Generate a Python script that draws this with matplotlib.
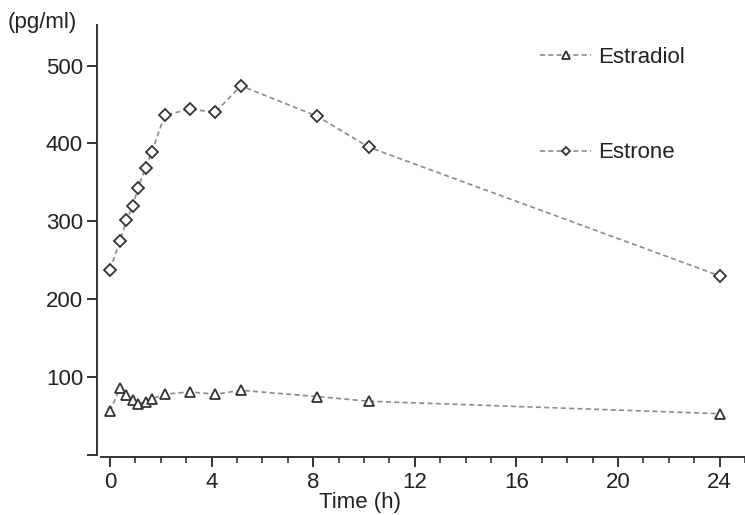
import matplotlib
matplotlib.use("Agg")
from matplotlib import pyplot as plt
from matplotlib.ticker import MultipleLocator

plt.rcParams['font.family'] = ['Liberation Sans', 'DejaVu Sans']

# time points (h) and concentrations (pg/ml)
time_h = [0, 0.4, 0.65, 0.9, 1.1, 1.4, 1.65, 2.15, 3.15, 4.15, 5.15, 8.15, 10.2, 24]
estradiol = [56, 86, 77, 70, 66, 68, 72, 78, 81, 78, 83, 75, 69, 53]
estrone = [238, 275, 302, 319, 343, 368, 389, 436, 444, 440, 474, 435, 395, 230]

x_ticks = [0, 4, 8, 12, 16, 20, 24]
y_ticks = [0, 100, 200, 300, 400, 500]
y_tick_labels = ['', '100', '200', '300', '400', '500']

fig = plt.figure(figsize=(7.45, 5.15), dpi=100)
ax = fig.add_axes([97 / 745, 1 - 457 / 515, 648 / 745, 432 / 515])

line_style = dict(color='#8a8a8a', lw=1.2, dashes=(3, 2),
                  mfc='white', mec='#333333', mew=1.3)
ax.plot(time_h, estradiol, marker='^', ms=7.5, label='Estradiol', **line_style)
ax.plot(time_h, estrone, marker='D', ms=6, label='Estrone', **line_style)

ax.set_xlim(-0.51, 25.0)
ax.set_ylim(-2.6, 552)

for side in ['top', 'right']:
    ax.spines[side].set_visible(False)
for side in ['left', 'bottom']:
    ax.spines[side].set_color('#333333')
    ax.spines[side].set_linewidth(1.4)
ax.spines['left'].set_bounds(0, 552)
ax.spines['bottom'].set_bounds(-0.35, 25.0)

ax.set_xticks(x_ticks)
ax.xaxis.set_minor_locator(MultipleLocator(1))
ax.set_yticks(y_ticks)
ax.set_yticklabels(y_tick_labels)
ax.tick_params(axis='both', which='major', direction='out', color='#333333',
               width=1.4, labelsize=16, labelcolor='#222222')
ax.tick_params(axis='x', which='major', length=7, pad=4)
ax.tick_params(axis='x', which='minor', length=4, width=1.2, color='#333333')
ax.tick_params(axis='y', which='major', length=7, pad=3)

ax.set_xlabel('Time (h)', fontsize=16, color='#222222', va='top')
ax.xaxis.set_label_coords(0.406, -0.08)

fig.text(8 / 745, 1 - 12 / 515, '(pg/ml)', fontsize=16, color='#222222',
         ha='left', va='top')

ax.legend(loc='upper left', bbox_to_anchor=(540 / 745, 1 - 47 / 515),
          bbox_transform=fig.transFigure, frameon=False, fontsize=16,
          handlelength=2.3, handletextpad=0.3, labelspacing=3.35,
          markerscale=0.75, borderpad=0, borderaxespad=0,
          labelcolor='#222222')

fig.savefig('out.png', dpi=100)
